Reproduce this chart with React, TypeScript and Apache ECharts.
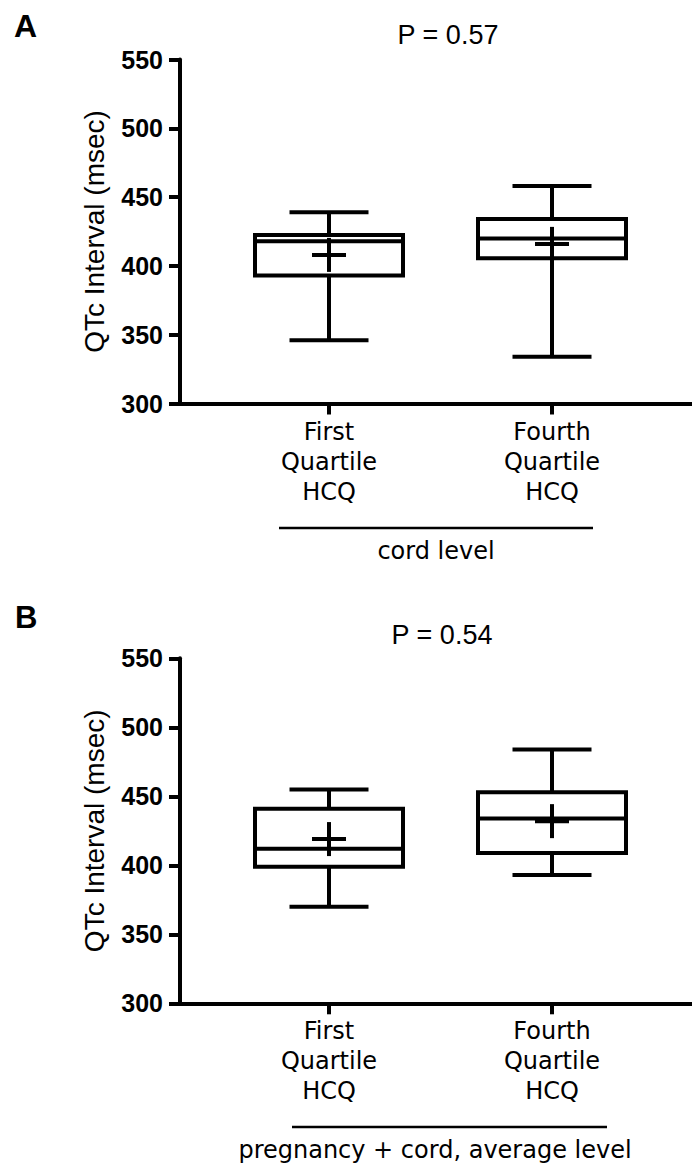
import React, { useEffect, useRef } from "react";
import * as echarts from "echarts";

const categories = ["First\nQuartile\nHCQ", "Fourth\nQuartile\nHCQ"];
const yTicks = [300, 350, 400, 450, 500, 550];

// Panel A: cord level
const cordMin = [346, 334];
const cordQ1 = [393, 405.5];
const cordMedian = [418, 420];
const cordQ3 = [422.5, 434];
const cordMax = [439, 458];
const cordMean = [408, 416];

// Panel B: pregnancy + cord, average level
const avgMin = [370, 393];
const avgQ1 = [399, 409];
const avgMedian = [412, 434];
const avgQ3 = [441, 453];
const avgMax = [455, 484];
const avgMean = [419, 432];

const pValues = ["P = 0.57", "P = 0.54"];
const groupTitles = ["cord level", "pregnancy + cord, average level"];

const rows = (mn: number[], q1: number[], md: number[], q3: number[], mx: number[], mean: number[]) =>
  categories.map((_, i) => [i + 1, mn[i], q1[i], md[i], q3[i], mx[i], mean[i]]);

const renderBox = (params: any, api: any) => {
  const x = api.value(0);
  const p = (v: number) => api.coord([x, v]);
  const [cx, yMin] = p(api.value(1));
  const yQ1 = p(api.value(2))[1];
  const yMed = p(api.value(3))[1];
  const yQ3 = p(api.value(4))[1];
  const yMax = p(api.value(5))[1];
  const yMean = p(api.value(6))[1];
  const hw = 74;
  const cw = 39.5;
  const pm = 17;
  const st = { stroke: "#000", lineWidth: 4, fill: "none" };
  const ln = (x1: number, y1: number, x2: number, y2: number) => ({
    type: "line",
    shape: { x1, y1, x2, y2 },
    style: st,
  });
  return {
    type: "group",
    children: [
      { type: "rect", shape: { x: cx - hw, y: yQ3, width: hw * 2, height: yQ1 - yQ3 }, style: st },
      ln(cx - hw, yMed, cx + hw, yMed),
      ln(cx, yQ3, cx, yMax),
      ln(cx, yQ1, cx, yMin),
      ln(cx - cw, yMax, cx + cw, yMax),
      ln(cx - cw, yMin, cx + cw, yMin),
      ln(cx - pm, yMean, cx + pm, yMean),
      ln(cx, yMean - pm, cx, yMean + pm),
    ],
  };
};

export default function App() {
  const ref = useRef<HTMLDivElement>(null);
  useEffect(() => {
    document.body.style.margin = "0";
    const chart = echarts.init(ref.current!, undefined, { renderer: "svg" });
    const tickFont = { fontFamily: "Liberation Sans", fontWeight: "bold" as const, fontSize: 25, color: "#000" };
    const mkX = (gi: number) => ({
      type: "value",
      gridIndex: gi,
      min: 0.3318,
      max: 2.6278,
      splitLine: { show: false },
      axisLine: { onZero: false, lineStyle: { color: "#000", width: 4 } },
      axisTick: { customValues: [1, 2], length: 11, lineStyle: { color: "#000", width: 4 } },
      axisLabel: {
        customValues: [1, 2],
        formatter: (v: number) => categories[Math.round(v) - 1] ?? "",
        fontFamily: "DejaVu Sans",
        fontSize: 24,
        lineHeight: 30,
        color: "#000",
        margin: 13,
      },
    });
    const mkY = (gi: number) => ({
      type: "value",
      gridIndex: gi,
      min: 300,
      max: 550,
      interval: 50,
      name: "QTc Interval (msec)",
      nameLocation: "middle",
      nameGap: 72,
      nameTextStyle: { fontFamily: "Liberation Sans", fontSize: 28, color: "#000" },
      splitLine: { show: false },
      axisLine: { onZero: false, lineStyle: { color: "#000", width: 4 } },
      axisTick: { length: 11, lineStyle: { color: "#000", width: 4 } },
      axisLabel: { ...tickFont, margin: 17, formatter: (v: number) => (yTicks.includes(v) ? String(v) : "") },
    });
    chart.setOption({
      animation: false,
      grid: [
        { left: 180, top: 59.5, width: 512, height: 344 },
        { left: 180, top: 658.3, width: 512, height: 345 },
      ],
      xAxis: [mkX(0), mkX(1)],
      yAxis: [mkY(0), mkY(1)],
      series: [
        {
          type: "custom",
          xAxisIndex: 0,
          yAxisIndex: 0,
          renderItem: renderBox,
          encode: { x: 0, y: [1, 2, 3, 4, 5, 6] },
          data: rows(cordMin, cordQ1, cordMedian, cordQ3, cordMax, cordMean),
        },
        {
          type: "custom",
          xAxisIndex: 1,
          yAxisIndex: 1,
          renderItem: renderBox,
          encode: { x: 0, y: [1, 2, 3, 4, 5, 6] },
          data: rows(avgMin, avgQ1, avgMedian, avgQ3, avgMax, avgMean),
        },
      ],
      graphic: [
        { type: "text", x: 14, y: 26, style: { text: "A", font: "bold 32px Liberation Sans", fill: "#000", textVerticalAlign: "middle" } },
        { type: "text", x: 15, y: 617, style: { text: "B", font: "bold 31px Liberation Sans", fill: "#000", textVerticalAlign: "middle" } },
        { type: "text", x: 448, y: 35, style: { text: pValues[0], font: "27px Liberation Sans", fill: "#000", textAlign: "center", textVerticalAlign: "middle" } },
        { type: "text", x: 442, y: 635, style: { text: pValues[1], font: "27px Liberation Sans", fill: "#000", textAlign: "center", textVerticalAlign: "middle" } },
        { type: "line", shape: { x1: 279, y1: 528, x2: 593, y2: 528 }, style: { stroke: "#000", lineWidth: 2.5 } },
        { type: "text", x: 436, y: 551, style: { text: groupTitles[0], font: "24px DejaVu Sans", fill: "#000", textAlign: "center", textVerticalAlign: "middle" } },
        { type: "line", shape: { x1: 292, y1: 1127, x2: 607, y2: 1127 }, style: { stroke: "#000", lineWidth: 2.5 } },
        { type: "text", x: 435, y: 1150, style: { text: groupTitles[1], font: "24px DejaVu Sans", fill: "#000", textAlign: "center", textVerticalAlign: "middle" } },
      ],
    });
    return () => chart.dispose();
  }, []);
  return <div ref={ref} style={{ width: 692, height: 1167 }} />;
}
